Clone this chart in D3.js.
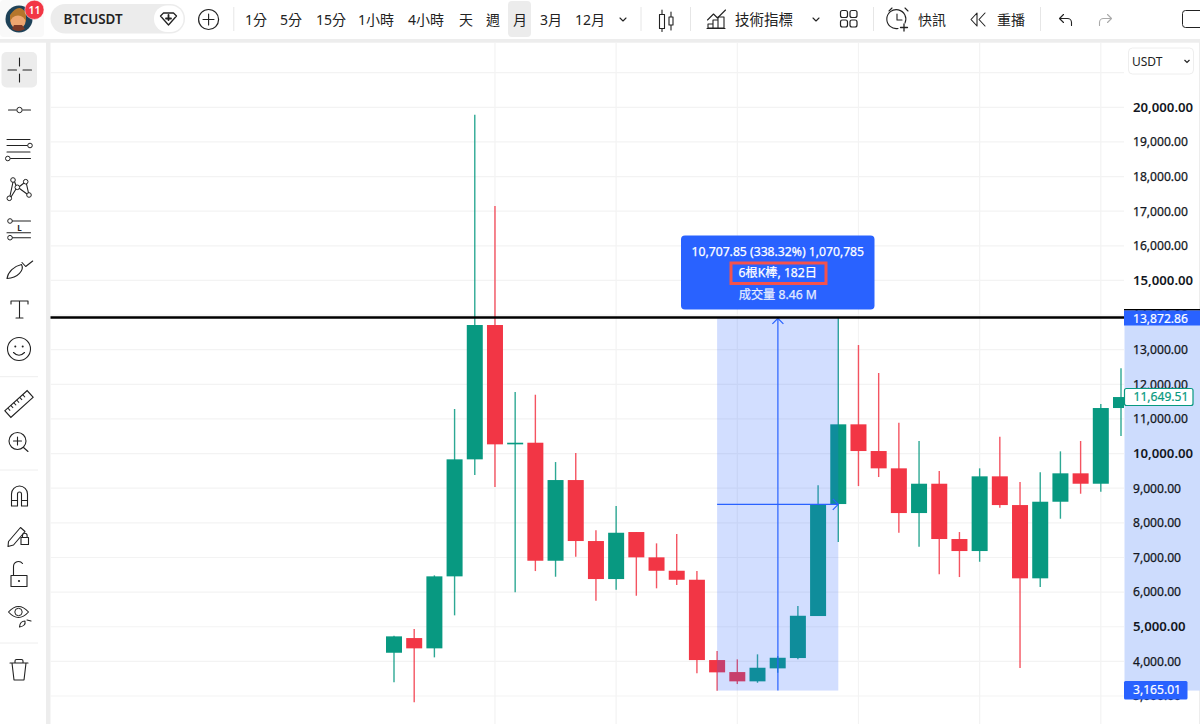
<!DOCTYPE html>
<html><head><meta charset="utf-8">
<script src="https://cdn.jsdelivr.net/npm/d3@7/dist/d3.min.js"></script>
<style>
html,body{margin:0;padding:0;background:#fff;overflow:hidden}
svg{display:block}
text{font-family:"Noto Sans","Noto Sans CJK TC",sans-serif}
.cjk{font-family:"Noto Sans","Noto Sans CJK TC",sans-serif}
</style></head><body>
<svg id="c" width="1200" height="724"></svg>
<script>
const opens =[4249,4673,4376,6455,9834,13713,10267,10314,6906,9236,7475,6377,7735,7004,6617,6357,4038,3691,3423,3798,4096,5309,8543,10845,10074,9574,8283,9130,7533,7186,9343,8514,6398,8610,9430,9130,11316];
const closes=[4722,4376,6455,9834,13713,10267,10314,6906,9236,7475,6377,7714,7004,6617,6357,4038,3683,3423,3816,4104,5317,8535,10845,10074,9574,8283,9130,7533,7186,9343,8514,6398,8610,9430,9130,11316,11633];
const highs =[4740,4933,6484,11287,19786,17150,11778,11700,9756,10016,7784,8486,7735,7408,7677,6608,4298,4058,4203,4154,5598,9083,13921,13135,12327,10891,10363,9496,7735,9574,10487,9179,9459,10065,10363,11431,12462];
const lows  =[3394,2816,4116,5329,9381,9034,5993,6608,6444,7021,5751,6068,5895,6109,6204,3654,3151,3345,3382,3671,4058,5309,7446,9063,9323,7714,7310,6513,6435,6877,8436,3807,6146,8119,8841,8898,10507];
const priceTicks=[3000,4000,5000,6000,7000,8000,9000,10000,11000,12000,13000,14000,15000,16000,17000,18000,19000,20000];
const boldTicks=[5000,10000,15000,20000];
const gridPrices=[3000,4000,5000,6000,7000,8000,9000,10000,11000,12000,13000,14000,15000,16000,17000,18000,19000,20000,21000];
const gridBars=[5,11,17,23,29,35];
const rangeStartBar=16, rangeEndBar=22, rangeMidPrice=8535;
const rangeHigh=13921, rangeLow=3157;
const intervals=[["1分",245],["5分",280],["15分",316],["1小時",358],["4小時",408],["天",459],["週",486],["月",513],["3月",540],["12月",575]];
const tipLines=["10,707.85 (338.32%) 1,070,785","6根K棒, 182日","成交量 8.46 M"];

const svg=d3.select("#c");
const INK="#222", GREY="#ededed", GREEN="#089981", RED="#f23645", BLUE="#2962ff";
const x=d3.scaleLinear().domain([0,36]).range([394,1121]);
const y=d3.scaleLinear().domain([3000,20000]).range([696,107.3]);
const bars=opens.map((o,i)=>({i,o,c:closes[i],h:highs[i],l:lows[i]}));

// page
svg.append("rect").attr("width",1200).attr("height",724).attr("fill","#fff");
svg.append("rect").attr("x",0).attr("y",39).attr("width",1200).attr("height",3.7).attr("fill",GREY);
svg.append("rect").attr("x",46).attr("y",39).attr("width",4.5).attr("height",685).attr("fill",GREY);
svg.append("rect").attr("x",1199).attr("y",42).attr("width",1).attr("height",682).attr("fill",GREY);

// plot
const defs=svg.append("defs");
defs.append("clipPath").attr("id","plot").append("rect").attr("x",50.5).attr("y",43).attr("width",1073.5).attr("height",681);
const plot=svg.append("g").attr("clip-path","url(#plot)");
plot.selectAll(".gh").data(gridPrices).join("line").attr("x1",50).attr("x2",1124)
  .attr("y1",d=>y(d)).attr("y2",d=>y(d)).attr("stroke","#f3f3f3").attr("stroke-width",1.2);
plot.selectAll(".gv").data(gridBars).join("line").attr("y1",43).attr("y2",724)
  .attr("x1",d=>x(d)).attr("x2",d=>x(d)).attr("stroke","#f3f3f3").attr("stroke-width",1.2);
plot.selectAll(".w").data(bars).join("line").attr("x1",d=>x(d.i)).attr("x2",d=>x(d.i))
  .attr("y1",d=>y(d.h)).attr("y2",d=>y(d.l)).attr("stroke",d=>d.c>=d.o?GREEN:RED).attr("stroke-width",1.4).attr("stroke-opacity",.85);
plot.selectAll(".b").data(bars).join("rect").attr("x",d=>x(d.i)-8).attr("width",16)
  .attr("y",d=>y(Math.max(d.o,d.c))).attr("height",d=>Math.max(1.6,Math.abs(y(d.o)-y(d.c))))
  .attr("fill",d=>d.c>=d.o?GREEN:RED);
// measure overlay
const rx0=x(rangeStartBar), rx1=x(rangeEndBar), rtop=y(rangeHigh), rbot=y(rangeLow), rmx=(rx0+rx1)/2+.2, rmy=y(rangeMidPrice);
plot.append("rect").attr("x",rx0).attr("y",rtop).attr("width",rx1-rx0).attr("height",rbot-rtop).attr("fill",BLUE).attr("fill-opacity",.21);
const ov=plot.append("g").attr("fill","none").attr("stroke",BLUE).attr("stroke-width",1.2);
ov.append("line").attr("x1",rmx).attr("x2",rmx).attr("y1",rbot).attr("y2",rtop);
ov.append("line").attr("x1",rx0).attr("x2",rx1).attr("y1",rmy).attr("y2",rmy);
ov.append("path").attr("d",`M${rmx-5.5} ${rtop+6}L${rmx} ${rtop+.5}L${rmx+5.5} ${rtop+6}`);
ov.append("path").attr("d",`M${rx1-5.5} ${rmy-5.5}L${rx1} ${rmy}L${rx1-5.5} ${rmy+5.5}`);
// horizontal black level
plot.append("line").attr("x1",50).attr("x2",1124).attr("y1",y(rangeHigh)-.3).attr("y2",y(rangeHigh)-.3).attr("stroke","#000").attr("stroke-width",2.5);

// axis pane
svg.append("rect").attr("x",1124.5).attr("y",rtop).attr("width",75.5).attr("height",rbot-rtop).attr("fill","#cddcfd");
const ax=svg.append("g").attr("transform","translate(1133,0)")
  .call(d3.axisRight(y).tickValues(priceTicks).tickFormat(d3.format(",.2f")).tickSize(0).tickPadding(0));
ax.select(".domain").remove();
ax.selectAll("text").attr("font-family",'"Noto Sans"').attr("fill","#131722")
  .attr("stroke","#131722").attr("stroke-width",d=>boldTicks.includes(d)?0:.25)
  .attr("font-size",d=>boldTicks.includes(d)?13.2:12.1).attr("font-weight",d=>boldTicks.includes(d)?600:400);

// price labels
const thick=(sel,c)=>sel.attr("stroke",c).attr("stroke-width",.2);
svg.append("rect").attr("x",1124).attr("y",309).attr("width",76).attr("height",1.6).attr("fill","#000");
svg.append("rect").attr("x",1124).attr("y",310.5).attr("width",76).attr("height",15).attr("fill",BLUE);
thick(svg.append("text").attr("x",1133).attr("y",323).attr("fill","#fff").attr("font-size",12.1).text("13,872.86"),"#fff");
svg.append("rect").attr("x",1124.5).attr("y",388.5).attr("width",68.5).attr("height",17).attr("rx",2).attr("fill","#fff").attr("stroke",GREEN).attr("stroke-width",1.2);
thick(svg.append("text").attr("x",1133.5).attr("y",401.4).attr("fill",GREEN).attr("font-size",12.1).text("11,649.51"),GREEN);
svg.append("rect").attr("x",1124).attr("y",681).attr("width",63.5).attr("height",18.5).attr("rx",1.5).attr("fill",BLUE);
thick(svg.append("text").attr("x",1133).attr("y",694).attr("fill","#fff").attr("font-size",12.1).text("3,165.01"),"#fff");

// USDT select
svg.append("rect").attr("x",1128.5).attr("y",48).attr("width",65).attr("height",26).attr("rx",4).attr("fill","#fff").attr("stroke","#eee");
svg.append("text").attr("x",1132).attr("y",65.5).attr("font-size",12).attr("fill",INK).text("USDT");
svg.append("path").attr("d","M1184.5 60l2.5 2.5l2.5-2.5").attr("fill","none").attr("stroke",INK).attr("stroke-width",1.2);

// tooltip
svg.append("rect").attr("x",681).attr("y",235.5).attr("width",193.5).attr("height",74).attr("rx",4).attr("fill",BLUE);
svg.append("rect").attr("x",731).attr("y",263).attr("width",95).attr("height",20.5).attr("fill","none").attr("stroke","#f4524d").attr("stroke-width",3);
svg.selectAll(".tip").data(tipLines).join("text").attr("x",777.8).attr("y",(d,i)=>[256,276.5,298.5][i])
  .attr("text-anchor","middle").attr("fill","#fff").attr("stroke","#fff").attr("stroke-width",.25).attr("font-size",12.2).attr("opacity",(d,i)=>i==2?.88:1).text(d=>d);

// ---------- top bar
const bar=svg.append("g");
bar.append("rect").attr("x",0).attr("y",0).attr("width",44).attr("height",37).attr("rx",4).attr("fill","#f9f9f9");
bar.append("circle").attr("cx",19).attr("cy",19).attr("r",13.5).attr("fill","#1e4258");
bar.append("path").attr("d","M10 15 Q19 2 26 13 L26 22 Q19 14 10 22Z").attr("fill","#b5762c");
bar.append("ellipse").attr("cx",18).attr("cy",22).attr("rx",7.5).attr("ry",6.5).attr("fill","#eda670");
bar.append("path").attr("d","M12 29 Q18 33 25 29 L22 25 L14 25Z").attr("fill","#7d3a26");
bar.append("circle").attr("cx",34.4).attr("cy",9.8).attr("r",9.6).attr("fill",RED).attr("stroke","#fff").attr("stroke-width",.5);
bar.append("text").attr("x",34.4).attr("y",13.6).attr("text-anchor","middle").attr("font-size",10.5).attr("font-weight",600).attr("fill","#fff").text("11");
bar.append("rect").attr("x",50.5).attr("y",4).attr("width",134.5).attr("height",29.5).attr("rx",14.7).attr("fill","#ececec");
bar.append("rect").attr("x",154).attr("y",5.5).attr("width",29.5).attr("height",26.5).attr("rx",13).attr("fill","#fff");
bar.append("text").attr("x",63.5).attr("y",24).attr("font-size",13.4).attr("font-weight",600).attr("fill",INK).text("BTCUSDT");
const ic=(d,c=INK,sw=1.1,f="none")=>svg.append("path").attr("d",d).attr("fill",f).attr("stroke",c).attr("stroke-width",sw).attr("stroke-linecap","round").attr("stroke-linejoin","round");
ic("M160.5 16l3-3h10l3 3l-8 9z",INK,1.3);
ic("M168.5 15v5M166 18.5h5",INK,1.8);
svg.append("circle").attr("cx",208.6).attr("cy",19.5).attr("r",10).attr("fill","none").attr("stroke",INK).attr("stroke-width",1.2);
ic("M208.6 14v11M203 19.5h11");
[233.8,641,690.5,873.5,1040.5].forEach(sx=>svg.append("line").attr("x1",sx).attr("x2",sx).attr("y1",7).attr("y2",31).attr("stroke","#e6e6e6"));
bar.append("rect").attr("x",508).attr("y",1).attr("width",23).attr("height",36).attr("rx",4).attr("fill","#ececec");
const tb=(t,xx,fs=14)=>svg.append("text").attr("class","cjk").attr("x",xx).attr("y",25).attr("font-size",fs).attr("fill",INK).text(t);
intervals.forEach(([t,xx])=>tb(t,xx,14));
const chev=cx=>ic(`M${cx-3} 18l3 3l3-3`);
chev(623); chev(816);
// candle icon
ic("M659.5 14.5h5v14h-5zM662 10v4.5M662 28.5v3");
ic("M669 17h4v8h-4zM671 12v5M671 25v5");
// indicators icon
ic("M707.5 20l6-6l4 4l8-8");
ic("M708 28v-4h5v4zM713 28v-8h5v8zM718 28v-11h6v11zM707 28.5h18");
tb("技術指標",735,14.5);
// grid icon
[[840.5,10.5],[850,10.5],[840.5,20],[850,20]].forEach(p=>svg.append("rect").attr("x",p[0]).attr("y",p[1]).attr("width",7).attr("height",7).attr("rx",2).attr("fill","none").attr("stroke",INK).attr("stroke-width",1.2));
// alarm icon
ic("M905 23a9.5 9.5 0 1 0 -7 5.5");
ic("M897 14v6h5");
ic("M889 11l3-3M905 8l3 3");
ic("M904 24v7M900.5 27.5h7",INK,1.3);
tb("快訊",918,14);
// rewind
ic("M977 13l-6 6.5l6 6.5zM985 13l-6 6.5l6 6.5");
tb("重播",997,14);
ic("M1059.5 18.5l4-4M1059.5 18.5l4 4M1059.5 18.5h8a4 4 0 0 1 4 4v3");
ic("M1111.5 18.5l-4-4M1111.5 18.5l-4 4M1111.5 18.5h-8a4 4 0 0 0 -4 4v3","#aaa");
svg.append("rect").attr("x",1182.5).attr("y",10.5).attr("width",30).attr("height",17).attr("rx",3).attr("fill","none").attr("stroke",INK).attr("stroke-width",1);

// ---------- left tools
svg.append("rect").attr("x",1.5).attr("y",52).attr("width",35.5).attr("height",35.5).attr("rx",5).attr("fill","#ececec");
[376.7,470,643].forEach(sy=>svg.append("line").attr("x1",0).attr("x2",38).attr("y1",sy).attr("y2",sy).attr("stroke","#eee"));
ic("M8 70h8.5M23 70h8.5M19.5 58v8M19.5 74v8");
ic("M8.5 110h7.5M23 110h7.5");
svg.append("circle").attr("cx",19.5).attr("cy",110).attr("r",2.7).attr("fill","none").attr("stroke",INK);
ic("M7 139.5h23M7 145.5h20.5M7 152h23M10.5 158.5h20");
ic("M13 182L10 196M11 197L16 189M19.5 186.5L24 183M26.5 184L28.5 193M19.5 188.5L27 194M14.5 181.5L16 185.5");
[[30,145.5],[7.8,158.5],[13,180],[25.7,181.7],[9.3,198.3],[29,195],[17.3,187.3],[10,221],[10,237.7]].forEach(p=>
  svg.append("circle").attr("cx",p[0]).attr("cy",p[1]).attr("r",2.3).attr("fill","#fff").attr("stroke",INK));
ic("M12.5 221h18M7 232.7h23.5M12.5 237.7h18");
svg.append("text").attr("x",19.5).attr("y",230.5).attr("text-anchor","middle").attr("font-size",8).attr("font-weight",700).attr("fill",INK).text("L");
ic("M7 278.5C8 272 14 266 21.5 264.5C24.5 270 18 278 7 278.5Z");
ic("M22 262.5L25.7 266.5L32.7 261");
ic("M11 304v-3h17v3M19.5 301v17M16 318h7");
svg.append("circle").attr("cx",19).attr("cy",349).attr("r",11.5).attr("fill","none").attr("stroke",INK).attr("stroke-width",1.1);
svg.append("circle").attr("cx",15.3).attr("cy",346.5).attr("r",1).attr("fill",INK);
svg.append("circle").attr("cx",22.7).attr("cy",346.5).attr("r",1).attr("fill",INK);
ic("M13.5 352.5Q19 358 24.5 352.5");
const ruler=svg.append("g").attr("transform","translate(19,404) rotate(-42)");
ruler.append("rect").attr("x",-15).attr("y",-4.5).attr("width",30).attr("height",9).attr("fill","none").attr("stroke",INK).attr("stroke-width",1.1);
d3.range(-11,13,4).forEach(t=>ruler.append("line").attr("x1",t).attr("x2",t).attr("y1",-4.5).attr("y2",-1).attr("stroke",INK));
svg.append("circle").attr("cx",17.5).attr("cy",441).attr("r",8.5).attr("fill","none").attr("stroke",INK).attr("stroke-width",1.1);
ic("M23.5 447.5L28 451.5M17.5 437v8M13.5 441h8");
ic("M11.5 506V494a8 8 0 0 1 16 0V506h-6V494a2 2 0 0 0 -4 0V506zM11.5 500.5h6M21.5 500.5h6");
ic("M8.5 541.5L20.5 527.5L25 531.5L13.5 545L8 546.5z");
ic("M21 537.5h7.5v7h-7.5zM22.5 537.5v-2a2.3 2.3 0 0 1 4.6 0v2","#222",1.1,"#fff");
ic("M11 575.5h16v11h-16zM13.5 575.5v-9a5 5 0 0 1 9 -3");
svg.append("circle").attr("cx",19).attr("cy",581).attr("r",1.1).attr("fill",INK);
ic("M8.5 612Q18.5 601 28.5 612Q18.5 623 8.5 612Z");
svg.append("circle").attr("cx",18.5).attr("cy",612).attr("r",3.7).attr("fill","none").attr("stroke",INK);
ic("M19.5 627Q20 621 25 621Q26 626 19.5 627M27 620L31 621");
ic("M10 663h18M15 663v-2q0-1.5 1.5-1.5h5q1.5 0 1.5 1.5v2M12 663L14 680H24L26 663");
</script></body></html>
